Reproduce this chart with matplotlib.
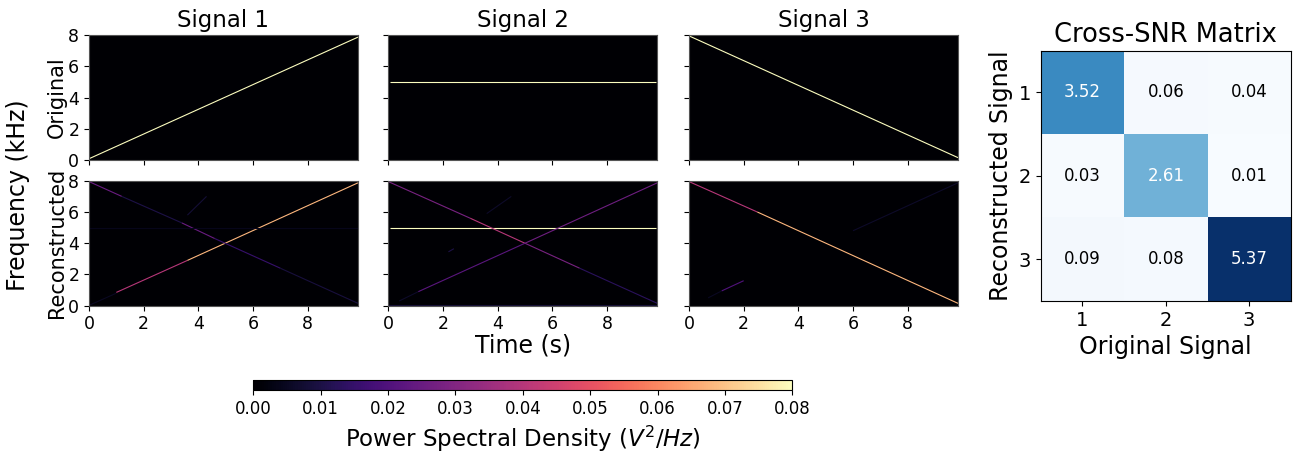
import numpy as np
import matplotlib
matplotlib.use('Agg')
import matplotlib.pyplot as plt
from matplotlib.colors import Normalize
from matplotlib.cm import ScalarMappable

# spectrogram ridges: (t_start, t_end, f_start, f_end, psd)  time in s, freq in kHz
orig1 = [(0.0, 9.84, 0.08, 7.87, 0.08)]
orig2 = [(0.05, 9.80, 5.0, 5.0, 0.08)]
orig3 = [(0.0, 9.84, 7.95, 0.15, 0.08)]

recon1 = [(0.0, 1.0, 0.02, 0.8, 0.005),
          (1.0, 3.6, 0.85, 2.9, 0.04),
          (3.6, 9.84, 2.9, 7.87, 0.068),
          (0.0, 1.2, 7.95, 7.0, 0.025),
          (1.2, 3.4, 7.0, 5.3, 0.01),
          (3.4, 4.6, 5.3, 4.3, 0.025),
          (4.6, 7.0, 4.3, 2.4, 0.015),
          (7.0, 9.84, 2.4, 0.15, 0.009),
          (0.0, 9.84, 5.0, 5.0, 0.004),
          (3.6, 4.3, 5.8, 7.0, 0.008)]
recon2 = [(0.05, 9.80, 5.0, 5.0, 0.08),
          (0.0, 3.0, 7.95, 5.6, 0.028),
          (3.0, 5.0, 5.6, 4.0, 0.04),
          (5.0, 7.0, 4.0, 2.4, 0.028),
          (7.0, 9.84, 2.4, 0.15, 0.013),
          (0.4, 1.1, 0.3, 0.9, 0.006),
          (1.1, 5.0, 0.9, 4.0, 0.022),
          (5.0, 9.84, 4.0, 7.87, 0.026),
          (0.0, 9.84, 0.05, 0.05, 0.008),
          (3.6, 4.5, 5.9, 7.0, 0.006),
          (2.2, 2.4, 3.45, 3.65, 0.01)]
recon3 = [(0.0, 2.5, 7.95, 6.0, 0.04),
          (2.5, 9.84, 6.0, 0.15, 0.068),
          (0.7, 1.2, 0.5, 0.95, 0.005),
          (1.2, 2.0, 0.95, 1.6, 0.02),
          (6.0, 9.84, 4.8, 7.87, 0.006)]

signal_titles = ['Signal 1', 'Signal 2', 'Signal 3']
row_labels = ['Original', 'Reconstructed']

snr = np.array([[3.52, 0.06, 0.04],
                [0.03, 2.61, 0.01],
                [0.09, 0.08, 5.37]])
snr_ticks = ['1', '2', '3']

psd_max = 0.08
t_max = 9.84

cmap = plt.get_cmap('magma')
norm = Normalize(0, psd_max)

fig = plt.figure(figsize=(12.99, 4.57), dpi=100)

lefts = [0.0685, 0.2989, 0.5304]
bottoms = [0.6499, 0.3311]
w, h = 0.2071, 0.2733

panels = [[orig1, orig2, orig3], [recon1, recon2, recon3]]
for r in range(2):
    for c in range(3):
        ax = fig.add_axes([lefts[c], bottoms[r], w, h])
        ax.set_facecolor(cmap(0.0))
        for t0, t1, f0, f1, p in panels[r][c]:
            ax.plot([t0, t1], [f0, f1], color=cmap(norm(p)), lw=0.8,
                    solid_capstyle='butt')
        ax.set_xlim(0, t_max)
        ax.set_ylim(0, 8)
        ax.set_xticks([0, 2, 4, 6, 8])
        ax.set_yticks([0, 2, 4, 6, 8])
        ax.tick_params(labelsize=12.5)
        for s in ax.spines.values():
            s.set_color('#555555')
        if r == 0:
            ax.set_title(signal_titles[c], fontsize=16.5)
            ax.set_xticklabels([])
        if c > 0:
            ax.set_yticklabels([])
        else:
            ax.set_ylabel(row_labels[r], fontsize=15, labelpad=1)
        if r == 1 and c == 1:
            ax.set_xlabel('Time (s)', fontsize=17, labelpad=0)

fig.text(0.0135, 0.572, 'Frequency (kHz)', rotation=90, fontsize=17,
         ha='center', va='center')

# colorbar
cax = fig.add_axes([0.195, 0.146, 0.415, 0.022])
sm = ScalarMappable(norm=norm, cmap=cmap)
cb = fig.colorbar(sm, cax=cax, orientation='horizontal')
cb.set_ticks(np.arange(0, 0.081, 0.01))
cb.ax.tick_params(labelsize=12)
cb.set_label('Power Spectral Density ($V^2/Hz$)', fontsize=16.5)

# cross-SNR matrix
hax = fig.add_axes([0.8012, 0.3414, 0.1925, 0.5477])
hax.imshow(snr, cmap='Blues', vmin=0, vmax=snr.max())
for i in range(3):
    for j in range(3):
        col = 'white' if snr[i, j] > 0.4 * snr.max() else 'black'
        hax.text(j, i, f'{snr[i, j]:.2f}', ha='center', va='center',
                 fontsize=12, color=col)
hax.set_xticks(range(3))
hax.set_yticks(range(3))
hax.set_xticklabels(snr_ticks)
hax.set_yticklabels(snr_ticks)
hax.tick_params(labelsize=14)
hax.set_xlabel('Original Signal', fontsize=17)
hax.set_ylabel('Reconstructed Signal', fontsize=17)
hax.set_title('Cross-SNR Matrix', fontsize=18.5)

fig.savefig('out.png', dpi=100)
